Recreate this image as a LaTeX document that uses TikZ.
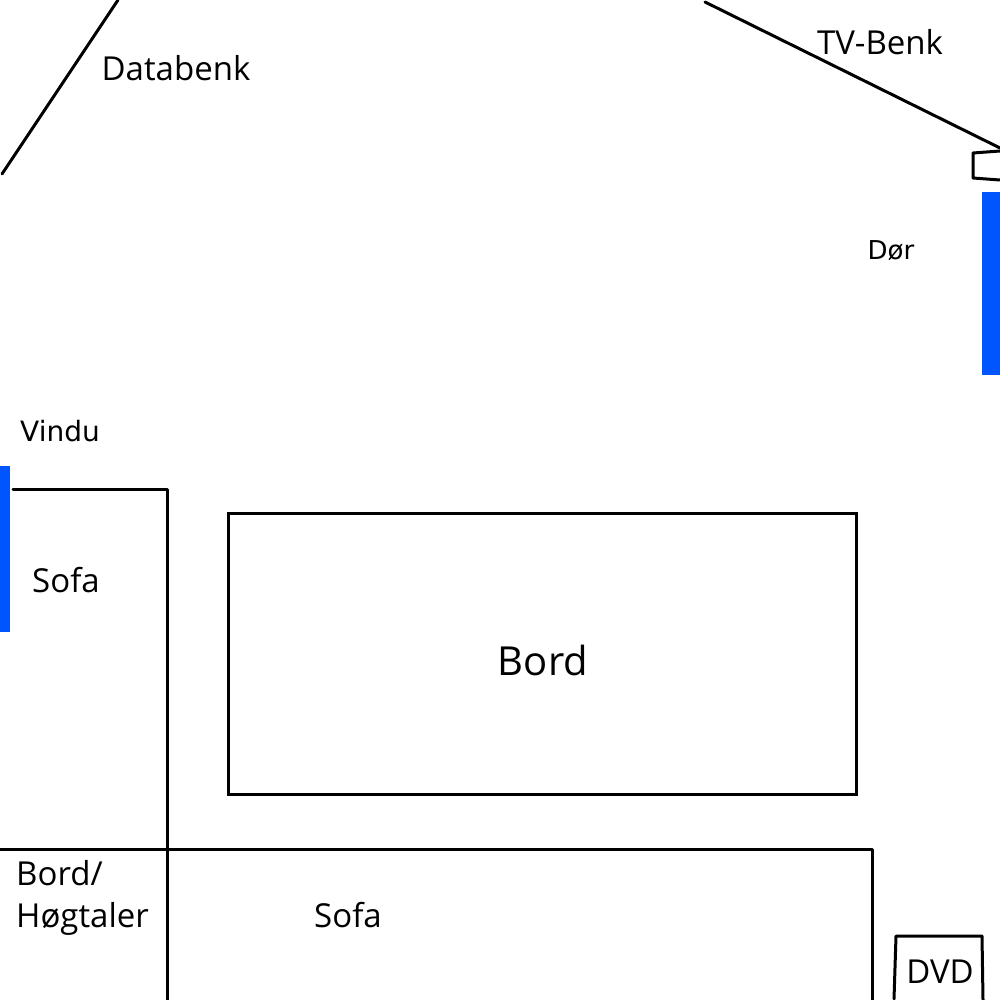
\documentclass[tikz,border=0pt]{standalone}
\usepackage{fontspec}
\setmainfont{Open Sans}
\newfontfamily\handfont{DejaVu Sans}
\definecolor{winblue}{RGB}{0,85,255}
\begin{document}
\begin{tikzpicture}[x=1pt,y=-1pt,
  wall/.style={line width=3pt, line cap=round, line join=round},
  lbl/.style={inner sep=0pt, font=\fontsize{33}{40}\selectfont},
  hand/.style={inner sep=0pt, font=\handfont\fontsize{26}{30}\selectfont},
  opening/.style={fill=winblue, draw=none}]
\useasboundingbox (0,0) rectangle (1000,1000);
\fill[white] (0,0) rectangle (1000,1000);
% diagonal benches
\coordinate (db1) at (118,0);
\coordinate (db2) at (2,174);
\draw[wall] (db1) -- (db2);
\node[lbl] (databenk) at (176,68) {Databenk};
\coordinate (tv1) at (705,2);
\coordinate (tv2) at (1000,148);
\draw[wall] (tv1) -- (tv2);
\node[lbl] (tvbenk) at (880,42) {TV-Benk};
% small box at right
\coordinate (sb1) at (1000,151);
\coordinate (sb2) at (973,153);
\coordinate (sb3) at (973,178);
\coordinate (sb4) at (1000,180);
\draw[wall] (sb1) -- (sb2) -- (sb3) -- (sb4);
% door
\fill[opening] (982,192) rectangle (1000,375);
\node[hand] (dor) at (891,251) {Dør};
% window
\node[hand, font=\handfont\fontsize{28}{32}\selectfont] (vindu) at (60,431) {Vindu};
\fill[opening] (0,466) rectangle (10,632);
% left sofa
\coordinate (ls1) at (13,489);
\coordinate (ls2) at (167,489);
\coordinate (ls3) at (167,1000);
\draw[wall] (ls1) -- (ls2) -- (ls3);
\node[lbl] (sofa1) at (66,580) {Sofa};
% table
\node[draw, line width=3pt, minimum width=628pt, minimum height=281pt, inner sep=0pt] (bord) at (542,653.5) {};
\node[inner sep=0pt, font=\fontsize{40}{48}\selectfont] (bordtxt) at (543,660) {Bord};
% bottom sofa
\coordinate (bs1) at (0,849);
\coordinate (bs2) at (872,849);
\coordinate (bs3) at (872,1000);
\draw[wall] (bs1) -- (bs2) -- (bs3);
\node[lbl] (sofa2) at (348,915) {Sofa};
\node[lbl, anchor=west, align=left, font=\fontsize{33}{42}\selectfont] (hog) at (16,898) {Bord/\\Høgtaler};
% DVD
\coordinate (dv1) at (894,999);
\coordinate (dv2) at (896,936);
\coordinate (dv3) at (982,936);
\coordinate (dv4) at (983,1000);
\draw[wall] (dv1) -- (dv2) -- (dv3) -- (dv4);
\node[lbl] (dvd) at (940,972) {DVD};
\end{tikzpicture}
\end{document}
